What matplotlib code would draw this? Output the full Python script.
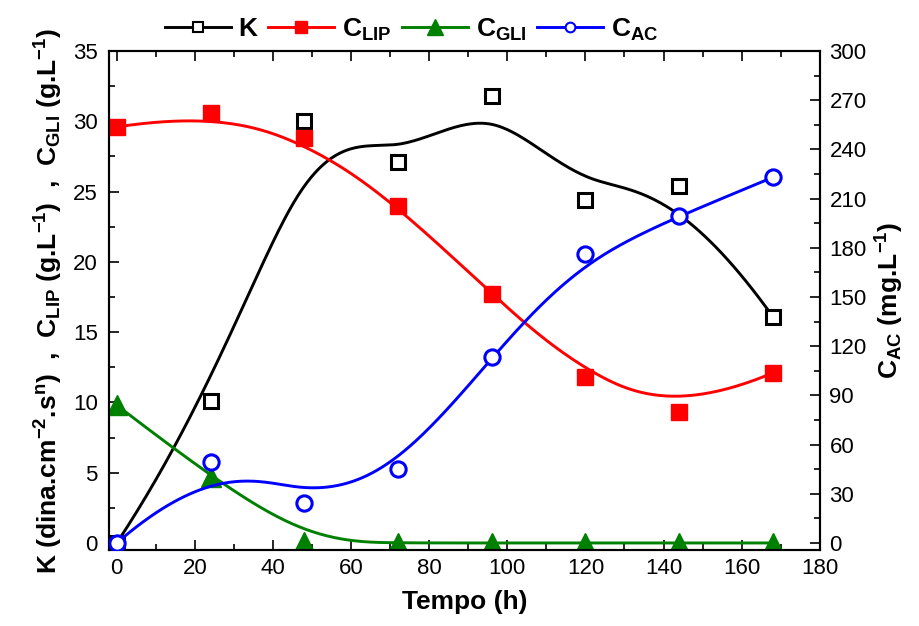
import numpy as np
import matplotlib.pyplot as plt
from matplotlib.ticker import MultipleLocator

plt.rcParams['font.family'] = ['Liberation Sans', 'DejaVu Sans']
plt.rcParams['mathtext.fontset'] = 'custom'
plt.rcParams['mathtext.rm'] = 'Liberation Sans:bold'
plt.rcParams['mathtext.it'] = 'Liberation Sans:bold'
plt.rcParams['mathtext.bf'] = 'Liberation Sans:bold'
plt.rcParams['mathtext.default'] = 'rm'

# data
tempo = [0, 24, 48, 72, 96, 120, 144, 168]
k_vals = [0.0, 10.1, 30.0, 27.1, 31.8, 24.4, 25.4, 16.1]
c_lip = [29.6, 30.6, 28.8, 24.0, 17.7, 11.8, 9.3, 12.1]
c_gli = [9.8, 4.7, 0.1, 0.0, 0.0, 0.0, 0.0, 0.0]
c_ac = [0.0, 49.6, 24.6, 45.1, 113.2, 176.4, 199.2, 223.0]


def bspline(xs, ys, npts=400, deg=3):
    # clamped uniform B-spline using the data as control points
    P = np.column_stack([xs, ys]).astype(float)
    n = len(P)
    nseg = n - deg
    knots = np.concatenate([np.zeros(deg), np.arange(nseg + 1), np.full(deg, nseg)]).astype(float)
    t = np.linspace(0, nseg, npts)
    t[-1] -= 1e-9

    def basis(i, k, t):
        if k == 0:
            return ((knots[i] <= t) & (t < knots[i + 1])).astype(float)
        out = np.zeros_like(t)
        d1 = knots[i + k] - knots[i]
        d2 = knots[i + k + 1] - knots[i + 1]
        if d1 > 0:
            out += (t - knots[i]) / d1 * basis(i, k - 1, t)
        if d2 > 0:
            out += (knots[i + k + 1] - t) / d2 * basis(i + 1, k - 1, t)
        return out

    B = np.column_stack([basis(i, deg, t) for i in range(n)])
    C = B @ P
    return C[:, 0], C[:, 1]


fig = plt.figure(figsize=(9.19, 6.26), dpi=100)
ax = fig.add_axes([0.1186, 0.1214, 0.7734, 0.7971])
ax2 = ax.twinx()

lw = 2.1
bx, by = bspline(tempo, k_vals)
ax.plot(bx, by, color='black', lw=lw, zorder=3)
ax.plot(tempo, k_vals, 's', mfc='white', mec='black', mew=2.2, ms=10, zorder=4)

bx, by = bspline(tempo, c_lip)
ax.plot(bx, by, color='red', lw=lw, zorder=3)
ax.plot(tempo, c_lip, 's', color='red', ms=11, zorder=4)

bx, by = bspline(tempo, c_gli)
ax.plot(bx, by, color='green', lw=lw, zorder=3)
ax.plot(tempo, c_gli, '^', color='green', ms=14, zorder=4)

bx, by = bspline(tempo, c_ac)
ax2.plot(bx, by, color='blue', lw=lw, zorder=3)
ax2.plot(tempo, c_ac, 'o', mfc='white', mec='blue', mew=2.2, ms=11, zorder=4)

ax.set_xlim(-2, 180)
ax.set_ylim(-0.5, 35)
ax2.set_ylim(-0.5 * 300 / 35, 300)

ax.xaxis.set_major_locator(MultipleLocator(20))
ax.xaxis.set_minor_locator(MultipleLocator(10))
ax.yaxis.set_major_locator(MultipleLocator(5))
ax.yaxis.set_minor_locator(MultipleLocator(2.5))
ax2.yaxis.set_major_locator(MultipleLocator(30))
ax2.yaxis.set_minor_locator(MultipleLocator(15))

ax.tick_params(which='both', direction='in', top=True, labelsize=16, width=1.2)
ax.tick_params(which='major', length=7)
ax.tick_params(which='minor', length=4)
ax.tick_params(axis='y', pad=8)
ax.tick_params(axis='x', pad=6)
ax2.tick_params(which='both', direction='in', labelsize=16, width=1.2, pad=7)
ax2.tick_params(which='major', length=7)
ax2.tick_params(which='minor', length=4)
for a in (ax, ax2):
    for s in a.spines.values():
        s.set_linewidth(1.5)

ax.set_xlabel('Tempo (h)', fontsize=19, fontweight='bold', labelpad=8)
ax.set_ylabel(r'K (dina.cm$^{-2}$.s$^{n}$)  ,  C$_{LIP}$ (g.L$^{-1}$)  ,  C$_{GLI}$ (g.L$^{-1}$)',
              fontsize=19, fontweight='bold', labelpad=6)
ax2.set_ylabel(r'C$_{AC}$ (mg.L$^{-1}$)', fontsize=19, fontweight='bold', labelpad=5)

handles = [
    plt.Line2D([], [], color='black', lw=lw, marker='s', mfc='white', mec='black', mew=1.5, ms=7),
    plt.Line2D([], [], color='red', lw=lw, marker='s', ms=9),
    plt.Line2D([], [], color='green', lw=lw, marker='^', ms=11),
    plt.Line2D([], [], color='blue', lw=lw, marker='o', mfc='white', mec='blue', mew=1.5, ms=7),
]
labels = ['K', r'C$_{LIP}$', r'C$_{GLI}$', r'C$_{AC}$']
fig.legend(handles, labels, loc='center', bbox_to_anchor=(0.448, 0.953), ncol=4,
           frameon=False, handlelength=2.5, handletextpad=0.3, columnspacing=0.4,
           prop={'size': 19, 'weight': 'bold'})

fig.savefig('out.png', dpi=100)
